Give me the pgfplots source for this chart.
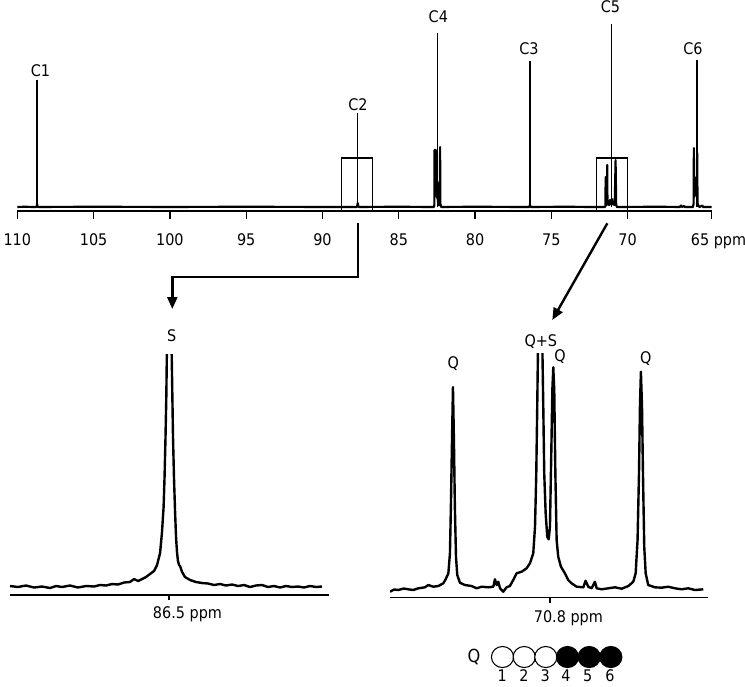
\documentclass[border=0pt]{standalone}
\usepackage{fontspec}
\setmainfont{DejaVu Sans}[FakeStretch=0.9]
\usepackage{pgfplots}
\pgfplotsset{compat=1.18}
\usetikzlibrary{arrows.meta}

\newcommand\lab{\fontsize{12}{14}\selectfont}

\pgfplotsset{
  spec/.style={
    scale only axis,
    anchor=south west,
    axis x line=bottom,
    axis y line=none,
    axis line style={-, line width=1pt},
    x dir=reverse,
    tick align=outside,
    tick style={black, line width=1pt},
    tick label style={font=\lab},
    /pgf/number format/assume math mode=true,
    /pgf/number format/1000 sep={},
    clip mode=individual,
  },
  trace/.style={black, line width=1.8pt, line join=round, mark=none},
}

\begin{document}
\begin{tikzpicture}[x=0.75pt, y=-0.75pt]
\path[use as bounding box] (0,0) rectangle (745,686);

% full spectrum
\begin{axis}[spec, at={(12.975pt,-158.25pt)}, width=520.7pt, height=158.25pt,
  xmin=64.5, xmax=110, ymin=-4, ymax=207,
  xtick={64.5,70,75,80,85,90,95,100,105,110},
  xticklabels={,70,75,80,85,90,95,100,105,110},
  extra x ticks={65.25}, extra x tick labels={65\rlap{\ ppm}},
  extra x tick style={tick style={draw=none}},
  xticklabel style={yshift=-7.5pt},
  major tick length=6pt]
\addplot[trace, line width=1.6pt] coordinates {
(110,0)(109.5,0.3)(109,0)
(108.76,0)(108.72,1)(108.70,3)(108.68,1)(108.64,0)
(105,0.3)(100,0)(95,0.3)(90,0)
(87.76,0)(87.72,1.5)(87.69,4)(87.66,1.5)(87.62,0)
(85,0.3)(83,0)
(82.70,0)(82.67,2)(82.655,57)(82.64,20)(82.625,57)(82.61,22)(82.595,57)(82.58,20)(82.565,57)(82.55,15)(82.53,25)(82.51,10)(82.49,25)(82.47,8)(82.45,25)(82.43,5)(82.40,2)(82.32,2)(82.29,60)(82.27,3)(82.22,0)
(80,0.3)(77,0)
(76.45,0)(76.42,1)(76.40,2.5)(76.38,1)(76.35,0)
(74,0.3)(72.5,0)
(71.50,0)(71.46,1)(71.44,30)(71.42,2)(71.36,2)(71.34,42)(71.32,3)(71.20,2)(71.15,7)(71.10,3)(71.03,8)(70.98,3)(70.85,2)(70.79,47)(70.75,2)(70.70,0)
(68,0.3)(66.6,0)(66.5,1.5)(66.45,0)(66.3,1)(66.25,0)
(65.72,0)(65.68,3)(65.66,59)(65.64,10)(65.61,29)(65.58,12)(65.55,29)(65.52,12)(65.49,29)(65.46,10)(65.44,54)(65.42,4)(65.38,2)(65.30,0)(65.10,1.5)(65.05,0)(64.5,0)
};
% leader lines
\draw[line width=1pt] (axis cs:108.7,0) -- (axis cs:108.7,127);
\draw[line width=1pt] (axis cs:87.69,0) -- (axis cs:87.69,94);
\draw[line width=1pt] (axis cs:82.45,0) -- (axis cs:82.45,174);
\draw[line width=1pt] (axis cs:76.4,0) -- (axis cs:76.4,146);
\draw[line width=1pt] (axis cs:71.07,0) -- (axis cs:71.07,183);
\draw[line width=1pt] (axis cs:65.46,0) -- (axis cs:65.46,147);
% zoom boxes
\draw[line width=1pt] (axis cs:88.74,-4) rectangle (axis cs:86.74,49);
\draw[line width=1pt] (axis cs:72.03,-4) rectangle (axis cs:70.0,49);
\end{axis}

% inset C2
\begin{axis}[spec, at={(7.5pt,-446.25pt)}, width=239.25pt, height=180.75pt,
  xmin=85.497, xmax=87.497, ymin=-8, ymax=233,
  xtick={86.5}, xticklabels={86.5\rlap{\ ppm}},
  xticklabel style={yshift=-1.1pt},
  major tick length=3.75pt]
\addplot[trace] coordinates {
(87.497,1)(87.447,0)(87.397,1.5)(87.346,-0.5)(87.296,0.5)(87.246,-1)(87.208,1)(87.171,0)(87.121,1.5)(87.071,-0.5)(87.020,1)(86.970,0.5)(86.933,2)(86.895,1.5)(86.857,3)(86.820,2.5)(86.782,4.5)(86.745,5)(86.719,8)(86.694,6)(86.669,8)(86.644,10)(86.619,13)(86.594,16)(86.575,22)(86.556,34)(86.544,55)(86.534,80)(86.528,110)(86.522,150)(86.517,190)(86.513,240)(86.506,280)(86.498,300)(86.491,280)(86.484,240)(86.479,190)(86.475,150)(86.469,110)(86.462,75)(86.456,50)(86.450,35)(86.444,26)(86.437,22)(86.431,21)(86.418,15)(86.400,10)(86.368,7)(86.331,5)(86.293,4)(86.255,3.5)(86.218,2)(86.180,3)(86.143,1.5)(86.105,2.5)(86.067,1)(86.030,2)(85.992,0)(85.955,1.5)(85.917,2)(85.879,0)(85.842,1)(85.804,-0.5)(85.766,1)(85.729,0)(85.691,0.5)(85.654,-0.5)(85.616,1)(85.578,0)(85.541,0.5)
};
\end{axis}

% inset C5
\begin{axis}[spec, at={(292.5pt,-448.275pt)}, width=238.5pt, height=183.3pt,
  xmin=69.806, xmax=71.806, ymin=-7.7, ymax=236.7,
  xtick={70.8}, xticklabels={70.8\rlap{\ ppm}},
  xticklabel style={yshift=-2.2pt},
  major tick length=3.75pt]
\addplot[trace] coordinates {
(71.806,-1.7)(71.780,0.5)(71.754,0)(71.720,1.5)(71.691,0.7)(71.660,0)(71.628,1.7)(71.586,2.7)(71.565,5)(71.534,3.3)(71.502,4)(71.471,6.7)(71.456,10.7)(71.439,16.7)(71.429,36.7)(71.423,83.3)(71.416,150)(71.410,203)(71.404,150)(71.398,83.3)(71.391,33.3)(71.383,15)(71.366,7.3)(71.335,5)(71.293,4)(71.261,1.7)(71.230,3.3)(71.188,2.7)(71.156,3.3)(71.146,10.7)(71.135,5)(71.125,8.3)(71.114,1.7)(71.094,-1.7)(71.073,2.7)(71.052,4)(71.031,10)(71.010,16.7)(70.978,18.3)(70.947,21.7)(70.926,26.7)(70.905,36.7)(70.894,63.3)(70.886,116.7)(70.880,183.3)(70.875,245)(70.869,300)(70.858,300)(70.848,245)(70.842,183.3)(70.836,116.7)(70.827,76.7)(70.817,53.3)(70.808,50.7)(70.800,63.3)(70.792,133.3)(70.785,200)(70.779,222.7)(70.773,200)(70.766,116.7)(70.758,50)(70.748,33.3)(70.731,23.3)(70.706,16.7)(70.685,10)(70.664,6.7)(70.632,3.3)(70.590,2.7)(70.576,9.3)(70.559,3.3)(70.538,1.7)(70.517,8.3)(70.506,1.7)(70.475,0.7)(70.433,1.7)(70.391,2.7)(70.349,1.3)(70.307,4)(70.276,8.3)(70.261,16.7)(70.249,50)(70.240,116.7)(70.234,183.3)(70.228,218.3)(70.221,183.3)(70.215,116.7)(70.207,43.3)(70.198,16.7)(70.182,5)(70.140,2.7)(70.098,2.3)(70.056,3.3)(70.014,1.7)(69.972,0.7)(69.930,1.7)(69.888,0)(69.836,0.7)
};
\end{axis}

% arrows
\draw[line width=1.8pt, -{Triangle[width=7.5pt,length=9pt]}]
  (357.7,223.3) -- (357.7,276.7) -- (172.3,276.7) -- (172.3,309);
\draw[line width=1.8pt, -{Triangle[width=7.5pt,length=9pt]}]
  (607.3,223.3) -- (552.3,320);

% peak labels
\begin{scope}[every node/.style={font=\lab, anchor=base, inner sep=0pt}]
\node at (40.5,76.7) {C1};
\node at (358,110) {C2};
\node at (438.3,22.7) {C4};
\node at (529,54.3) {C3};
\node at (610.5,12.5) {C5};
\node at (693,54.3) {C6};
\node at (171.7,341.7) {S};
\node at (453.3,368.5) {Q};
\node at (540.8,346) {Q+S};
\node at (560,361.5) {Q};
\node at (645.7,363.5) {Q};
\node[font=\fontsize{13.5}{15}\selectfont] at (474,662) {Q};
\node at (502.3,681.5) {1};
\node at (524,681.5) {2};
\node at (545.3,681.5) {3};
\node at (566,681.5) {4};
\node at (587.7,681.5) {5};
\node at (610,681.5) {6};
\end{scope}

% Q legend circles
\foreach \cx/\col in {502.5/white,524.2/white,545.8/white,567.5/black,589.2/black,610.8/black}
  \draw[line width=0.8pt, fill=\col] (\cx,657) ellipse [x radius=8.3pt, y radius=7.9pt];
\end{tikzpicture}
\end{document}
